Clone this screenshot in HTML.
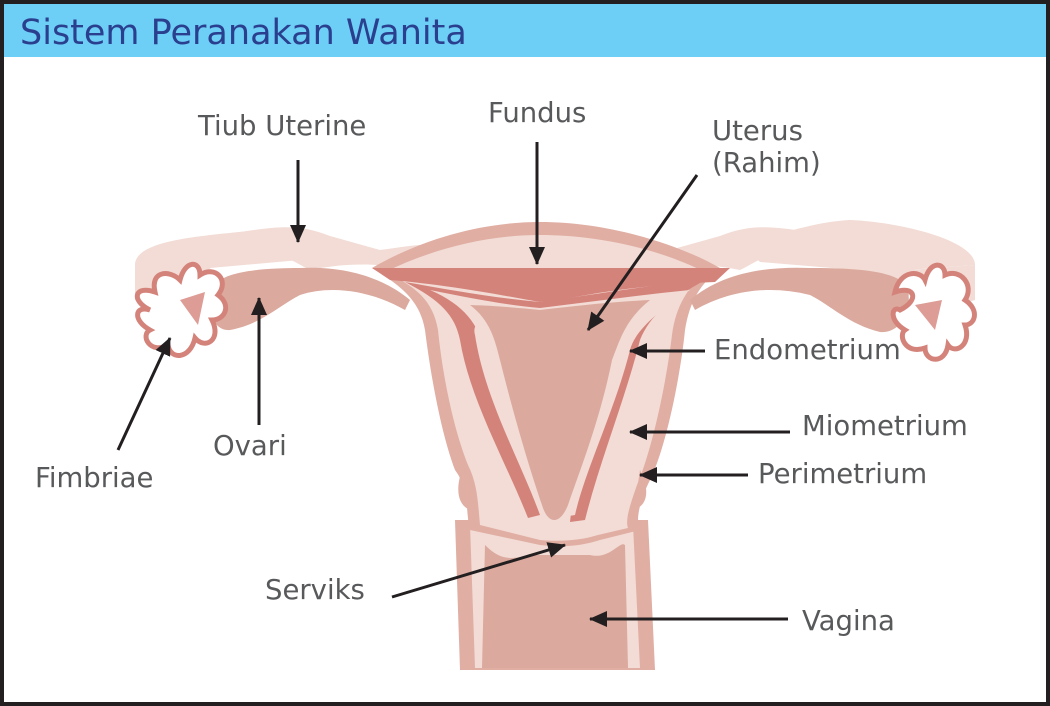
<!DOCTYPE html>
<html><head><style>
html,body{margin:0;padding:0;background:#231f20;}
svg{display:block;}
text{font-family:"DejaVu Sans","Liberation Sans",sans-serif;}
</style></head><body>
<svg width="1050" height="706" viewBox="0 0 1050 706" xmlns="http://www.w3.org/2000/svg">
<defs>
<marker id="ah" markerWidth="18" markerHeight="16" refX="17" refY="8" orient="auto" markerUnits="userSpaceOnUse" viewBox="0 0 18 16">
<path d="M0,0 L18,8 L0,16 z" fill="#231f20"/>
</marker>
</defs>
<rect x="0" y="0" width="1050" height="706" fill="#231f20"/>
<rect x="4" y="4" width="1042" height="698" fill="#fff"/>
<rect x="4" y="4" width="1042" height="53" fill="#6dcff6"/>
<text x="20" y="44" font-size="35" fill="#2b3f8f">Sistem Peranakan Wanita</text>

<!-- tubes -->
<path d="M135,265 C140,240 190,238 240,232 C280,226 300,224 330,236 L380,250 C420,245 440,238 440,260 L430,275 C390,262 350,262 310,270 C290,260 280,250 245,252 C220,256 210,270 190,285 C170,300 150,300 140,295 Z" fill="#f2dcd5"/>
<path d="M915,265 C910,240 860,238 810,232 C770,226 750,224 720,236 L670,250 C630,245 610,238 610,260 L620,275 C660,262 700,262 740,270 C760,260 770,250 805,252 C830,256 840,270 860,285 C880,300 900,300 910,295 Z" fill="#f2dcd5"/>
<path d="M135,265 C135,240 200,236 260,230 C290,226 320,236 340,244 L300,260 L210,268 Z" fill="#f2dcd5"/>
<path d="M975,265 C975,240 900,222 850,220 C810,222 770,238 740,244 L760,262 L880,272 Z" fill="#f2dcd5"/>
<path d="M135,265 L135,300 L170,310 L200,270 Z M975,265 L975,300 L940,310 L910,270 Z" fill="#f2dcd5"/>

<!-- vagina outer -->
<path d="M455,520 L460,670 L655,670 L648,520 Z" fill="#e0aea3"/>
<path d="M470,525 L475,668 L640,668 L633,525 Z" fill="#f2dcd5"/>
<path d="M485,545 C500,560 510,560 530,555 L590,555 C610,560 620,540 625,545 L628,668 L482,668 Z" fill="#dba99d"/>

<!-- uterus body outer -->
<path d="M372,268 C420,240 480,222 540,222 C610,222 680,245 720,268 C700,285 690,300 685,330 C680,380 665,450 650,480 C640,500 635,520 640,530 L600,540 C585,545 565,548 540,545 L470,530 C465,510 470,490 455,470 C440,430 430,370 425,330 C420,300 400,285 372,268 Z" fill="#e0aea3"/>
<path d="M385,272 C430,250 485,235 540,235 C605,235 665,252 705,272 C688,288 676,305 672,335 C666,385 652,450 637,485 C630,505 625,520 628,528 L598,535 C582,540 562,542 540,540 L480,525 C478,505 478,485 468,465 C452,425 442,370 438,330 C433,300 415,286 385,272 Z" fill="#f2dcd5"/>
<!-- ovaries -->
<path d="M215,285 C225,270 270,268 300,268 C340,266 380,275 410,300 L405,310 C370,290 330,285 300,295 C280,305 260,325 230,330 C210,332 205,300 215,285 Z" fill="#dba99d"/>
<path d="M905,285 C895,270 850,268 810,268 C760,266 720,275 690,300 L695,310 C730,290 770,285 810,295 C830,305 850,325 880,332 C905,334 915,300 905,285 Z" fill="#dba99d"/>
<!-- endometrium -->
<path d="M372,268 L730,268 L715,282 C650,285 610,290 560,300 L540,302 C500,295 450,285 390,280 Z" fill="#d4837b"/>
<path d="M405,282 C450,290 495,298 540,302 C590,295 650,285 705,280 C670,300 650,315 640,340 C625,400 600,460 585,520 L570,522 C575,470 600,400 615,340 C620,320 590,310 555,315 L530,315 C495,312 470,318 475,335 C485,400 520,460 540,515 L528,518 C505,460 470,400 460,340 C455,315 440,300 405,282 Z" fill="#d4837b"/>
<path d="M430,290 C470,298 505,305 540,308 C590,302 640,295 690,290 C660,310 635,330 630,350 C615,410 585,470 575,515 L545,520 C525,470 500,410 485,350 C478,325 465,305 430,290 Z" fill="#f2dcd5"/>
<path d="M470,305 C500,306 520,308 540,310 C575,306 610,302 650,300 C625,320 620,340 612,360 C600,420 580,470 568,505 C560,525 548,525 542,505 C530,470 515,420 500,360 C495,340 490,320 470,305 Z" fill="#dba99d"/>
<path d="M462,470 C455,490 458,505 470,510 Z M640,470 C650,490 648,505 634,510 Z" fill="#e0aea3"/>

<!-- fimbriae -->
<g fill="#fff" stroke="#d4837b" stroke-width="5">
<path d="M150,310 C130,300 135,285 155,292 C150,270 170,270 180,280 C185,260 200,260 200,275 C215,265 230,280 218,295 C232,305 225,320 212,320 C222,340 205,350 195,338 C190,360 170,360 168,345 C150,355 140,335 150,330 C132,320 135,305 150,310 Z"/>
<path d="M900,310 C920,300 915,285 895,292 C900,270 920,270 925,280 C930,260 945,262 945,275 C960,268 975,285 965,300 C980,310 975,325 965,325 C972,345 955,355 948,345 C945,365 925,362 925,348 C905,355 898,335 905,330 C888,320 892,305 900,310 Z"/>
</g>
<path d="M180,300 L205,292 L198,325 Z M915,305 L942,300 L935,330 Z" fill="#d4837b" opacity="0.8"/>

<!-- arrows -->
<g stroke="#231f20" stroke-width="3" marker-end="url(#ah)">
<line x1="298" y1="160" x2="298" y2="242"/>
<line x1="537" y1="142" x2="537" y2="264"/>
<line x1="697" y1="175" x2="588" y2="330"/>
<line x1="705" y1="351" x2="630" y2="351"/>
<line x1="790" y1="432" x2="630" y2="432"/>
<line x1="748" y1="475" x2="640" y2="475"/>
<line x1="788" y1="619" x2="590" y2="619"/>
<line x1="392" y1="597" x2="565" y2="545"/>
<line x1="259" y1="425" x2="259" y2="298"/>
<line x1="118" y1="450" x2="170" y2="338"/>
</g>

<g font-size="27.5" fill="#58595b">
<text x="198" y="135">Tiub Uterine</text>
<text x="488" y="122">Fundus</text>
<text x="712" y="140">Uterus</text>
<text x="712" y="172">(Rahim)</text>
<text x="714" y="359">Endometrium</text>
<text x="802" y="435">Miometrium</text>
<text x="758" y="483">Perimetrium</text>
<text x="802" y="630">Vagina</text>
<text x="265" y="599">Serviks</text>
<text x="213" y="455">Ovari</text>
<text x="35" y="487">Fimbriae</text>
</g>
</svg>
</body></html>
